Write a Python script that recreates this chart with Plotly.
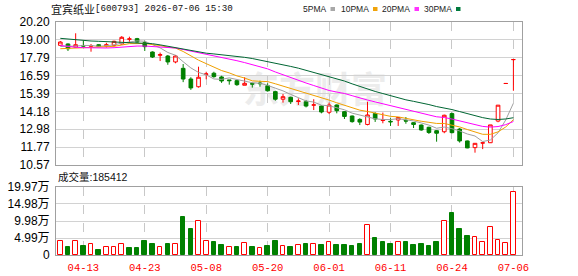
import plotly.graph_objects as go

# ---------------- data ----------------
stock_name = "宜宾纸业"
stock_code = "600793"
quote_time = "2026-07-06 15:30"

dates = ["04-08", "04-09", "04-10", "04-13", "04-14", "04-15", "04-16", "04-17",
         "04-20", "04-21", "04-22", "04-23", "04-24", "04-27", "04-28", "04-29",
         "04-30", "05-06", "05-07", "05-08", "05-11", "05-12", "05-13", "05-14",
         "05-15", "05-18", "05-19", "05-20", "05-21", "05-22", "05-25", "05-26",
         "05-27", "05-28", "05-29", "06-01", "06-02", "06-03", "06-04", "06-05",
         "06-08", "06-09", "06-10", "06-11", "06-12", "06-15", "06-16", "06-17",
         "06-18", "06-22", "06-23", "06-24", "06-25", "06-26", "06-29", "06-30",
         "07-01", "07-02", "07-03", "07-06"]

opens = [18.63, 18.72, 18.50, 18.62, 18.57, 18.67, 18.58, 18.63, 18.72, 19.04,
         19.08, 18.81, 18.18, 17.96, 17.91, 17.51, 17.08, 16.36, 15.84, 16.68,
         16.75, 16.50, 16.30, 16.25, 15.94, 16.05, 16.09, 15.91, 15.51, 15.00,
         15.13, 14.85, 14.83, 14.60, 14.54, 14.12, 14.61, 14.16, 13.87, 13.64,
         13.30, 14.04, 13.57, 13.51, 13.60, 13.57, 13.42, 13.26, 13.11, 12.88,
         12.81, 14.03, 12.99, 12.19, 11.74, 12.05, 12.07, 13.53, 16.06, 17.67]
highs = [18.92, 18.76, 19.44, 18.94, 18.72, 18.70, 18.80, 18.94, 19.25, 19.21,
         19.13, 18.94, 18.22, 18.14, 17.98, 17.98, 17.37, 16.48, 17.19, 16.85,
         16.85, 16.58, 16.30, 16.30, 16.48, 16.12, 16.25, 16.07, 15.57, 15.35,
         15.17, 15.06, 14.95, 15.00, 14.58, 14.77, 14.65, 14.20, 13.90, 13.72,
         14.83, 14.12, 14.10, 13.72, 13.80, 13.80, 13.45, 13.30, 13.15, 12.92,
         13.96, 14.10, 13.06, 12.22, 12.05, 12.08, 13.27, 14.60, 16.06, 17.67]
lows = [18.58, 18.25, 18.48, 18.54, 18.20, 18.52, 18.48, 18.54, 18.68, 18.81,
        18.81, 18.25, 17.78, 17.57, 17.32, 17.42, 16.15, 15.63, 15.78, 16.34,
        16.45, 16.10, 15.98, 15.90, 15.94, 15.78, 15.84, 15.51, 14.90, 14.77,
        14.68, 14.61, 14.45, 14.27, 14.05, 14.00, 14.05, 13.67, 13.42, 13.26,
        13.24, 13.47, 13.38, 13.20, 13.20, 13.35, 13.06, 12.88, 12.66, 12.14,
        12.71, 12.70, 12.08, 11.70, 11.40, 11.64, 12.05, 13.45, 16.06, 15.57]
closes = [18.85, 18.40, 18.67, 18.58, 18.60, 18.54, 18.67, 18.90, 19.17, 19.06,
          18.85, 18.54, 17.84, 18.00, 17.51, 17.91, 16.36, 15.76, 16.48, 16.70,
          16.52, 16.23, 16.25, 15.98, 16.07, 16.02, 16.05, 15.57, 15.00, 15.17,
          14.83, 14.88, 14.54, 14.62, 14.14, 14.61, 14.23, 13.84, 13.49, 13.46,
          13.94, 13.67, 13.60, 13.48, 13.77, 13.53, 13.30, 12.93, 12.76, 12.71,
          13.92, 12.75, 12.19, 11.72, 12.03, 12.06, 13.27, 14.60, 16.06, 17.67]
volumes = [41100, 22600, 42000, 26400, 31400, 14700, 22600, 22600, 31400, 20600,
           20600, 41100, 32300, 22600, 32300, 32300, 111600, 76400, 99900, 41100,
           38200, 29400, 22600, 22600, 34400, 22600, 19700, 26400, 41100, 25500,
           22600, 28500, 32300, 32300, 29400, 37300, 29400, 29400, 26400, 32300,
           87200, 49900, 38200, 32300, 37300, 38200, 29400, 32300, 26400, 38200,
           99000, 123300, 76400, 55800, 52000, 38200, 81300, 44100, 34400, 185412]

ma_names = ["5PMA", "10PMA", "20PMA", "30PMA"]
ma_periods = [5, 10, 20, 30]
ma5_head = [18.55, 18.55, 18.58, 18.62]
ma10_head = [18.40, 18.42, 18.45, 18.47, 18.48, 18.50, 18.52, 18.56, 18.65]
ma20_head = [18.62, 18.55, 18.50, 18.47, 18.45, 18.45, 18.45, 18.47, 18.52, 18.56,
             18.58, 18.58, 18.55, 18.52, 18.48, 18.45, 18.35, 18.24, 18.15]
ma30_head = [19.10, 19.05, 18.98, 18.95, 18.92, 18.90, 18.88, 18.86, 18.84, 18.82,
             18.81, 18.79, 18.74, 18.66, 18.56, 18.45, 18.36, 18.27, 18.18, 18.10,
             18.05, 18.00, 17.96, 17.90, 17.82, 17.74, 17.64, 17.55, 17.45]
ma_heads = [ma5_head, ma10_head, ma20_head, ma30_head]

x_labels = ["04-13", "04-23", "05-08", "05-20", "06-01", "06-11", "06-24", "07-06"]
price_ticks = [10.57, 11.77, 12.98, 14.18, 15.39, 16.59, 17.79, 19.00, 20.20]
vol_ticks = [0, 49900, 99800, 149800, 199700]
vol_tick_text = ["0", "4.99万", "9.98万", "14.98万", "19.97万"]

# ---------------- styles ----------------
RED = "#ff0000"
GREEN = "#008000"
ma_colors = ["#a0a0a0", "#f0a000", "#ff00ff", "#006633"]
legend_colors = ["#a8a8a8", "#f0a30a", "#ff33ff", "#007a3d"]
GRID = "#d2d2d2"
BORDER = "#a0a0a0"

W, H = 578, 276
L, R, T, B = 56, 522, 22, 255


def px_x(px):
    return (px - L) / (R - L)


def px_y(py):
    return (B - py) / (B - T)


xs = list(range(len(dates)))


def moving_average(n, head):
    out = []
    for i in range(len(closes)):
        if i < n - 1:
            out.append(head[i])
        else:
            out.append(sum(closes[i - n + 1:i + 1]) / n)
    return out


fig = go.Figure()

# candles
fig.add_trace(go.Candlestick(
    x=xs, open=opens, high=highs, low=lows, close=closes,
    increasing=dict(line=dict(color=RED, width=1), fillcolor="#ffffff"),
    decreasing=dict(line=dict(color=GREEN, width=1), fillcolor=GREEN),
    whiskerwidth=0, xaxis="x", yaxis="y", hoverinfo="skip",
))

# moving averages
for name, n, head, col in zip(ma_names, ma_periods, ma_heads, ma_colors):
    fig.add_trace(go.Scatter(
        x=xs, y=moving_average(n, head), mode="lines", name=name,
        line=dict(color=col, width=1), xaxis="x", yaxis="y", hoverinfo="skip",
    ))

# volume
vol_up = [closes[i] >= (closes[i - 1] if i > 0 else opens[i]) for i in range(len(closes))]
fig.add_trace(go.Bar(
    x=xs, y=volumes, width=0.6,
    marker=dict(color=["#ffffff" if u else GREEN for u in vol_up],
                line=dict(color=[RED if u else GREEN for u in vol_up], width=1)),
    xaxis="x2", yaxis="y2", hoverinfo="skip",
))

tick_idx = [dates.index(d) for d in x_labels]
xr = [-0.56, len(dates) + 0.12]

common_x = dict(range=xr, tickvals=tick_idx, ticktext=x_labels, showgrid=True,
                gridcolor="#c8c8c8", griddash="dash", gridwidth=1, zeroline=False,
                showline=True, mirror=True, linecolor=BORDER, linewidth=1, ticks="",
                fixedrange=True, automargin=False)

annotations = [
    dict(xref="paper", yref="paper", x=px_x(49), y=px_y(8.5), xanchor="left", yanchor="middle",
         text=stock_name, showarrow=False,
         font=dict(family="Noto Sans CJK SC", size=11, color="#111111")),
    dict(xref="paper", yref="paper", x=px_x(93), y=px_y(8.5), xanchor="left", yanchor="middle",
         text=f"[{stock_code}] {quote_time}", showarrow=False,
         font=dict(family="Liberation Mono", size=9.2, color="#111111")),
    dict(xref="paper", yref="paper", x=px_x(56), y=px_y(176.5), xanchor="left", yanchor="middle",
         text=f"成交量:{volumes[-1]}", showarrow=False,
         font=dict(family="Liberation Sans, Noto Sans CJK SC", size=10.5, color="#111111")),
]
shapes = []
legend_text_right = [328, 370.5, 412, 453.5]
for name, col, xr_px in zip(ma_names, legend_colors, legend_text_right):
    annotations.append(dict(xref="paper", yref="paper", x=px_x(xr_px), y=px_y(8.5),
                            xanchor="right", yanchor="middle", text=name, showarrow=False,
                            font=dict(family="Liberation Sans", size=8.5, color="#222222")))
    shapes.append(dict(type="rect", xref="paper", yref="paper",
                       x0=px_x(xr_px + 2.5), x1=px_x(xr_px + 7), y0=px_y(11), y1=px_y(7),
                       fillcolor=col, line=dict(width=0)))

# faint watermark behind the data
shapes.append(dict(type="rect", xref="paper", yref="paper", layer="below",
                   x0=px_x(235), x1=px_x(395), y0=px_y(115), y1=px_y(70),
                   line=dict(width=0), fillcolor="rgba(0,0,0,0)",
                   label=dict(text="东方财富", textposition="middle center",
                              font=dict(family="Noto Sans CJK SC", size=36, color="#ececec",
                                        weight="bold"))))

fig.update_layout(
    width=W, height=H, autosize=False,
    margin=dict(l=L, r=W - R, t=T, b=H - B, pad=0, autoexpand=False),
    paper_bgcolor="#ffffff", plot_bgcolor="#ffffff",
    showlegend=False, boxgap=0.32, bargap=0,
    xaxis=dict(**common_x, domain=[0, 1], anchor="y", showticklabels=False,
               rangeslider=dict(visible=False)),
    xaxis2=dict(**common_x, domain=[0, 1], anchor="y2", matches="x", showticklabels=True,
                tickfont=dict(family="Liberation Mono", size=10.5, color=RED),
                ticklabelstandoff=2),
    yaxis=dict(domain=[px_y(165), 1], range=[price_ticks[0], price_ticks[-1]],
               tickvals=price_ticks, ticktext=[f"{v:.2f}" for v in price_ticks],
               showgrid=True, gridcolor=GRID, gridwidth=1, zeroline=False,
               showline=True, mirror=True, linecolor=BORDER, linewidth=1, ticks="",
               tickfont=dict(family="Liberation Sans", size=12, color="#000000"),
               ticklabelstandoff=3, fixedrange=True, automargin=False),
    yaxis2=dict(domain=[0, px_y(187)], range=[vol_ticks[0], vol_ticks[-1]],
                tickvals=vol_ticks, ticktext=vol_tick_text,
                showgrid=True, gridcolor=GRID, gridwidth=1, zeroline=False,
                showline=True, mirror=True, linecolor=BORDER, linewidth=1, ticks="",
                tickfont=dict(family="Liberation Sans, Noto Sans CJK SC", size=12, color="#000000"),
                ticklabelstandoff=3, fixedrange=True, automargin=False),
    annotations=annotations, shapes=shapes,
)

fig.write_html("out.html")
